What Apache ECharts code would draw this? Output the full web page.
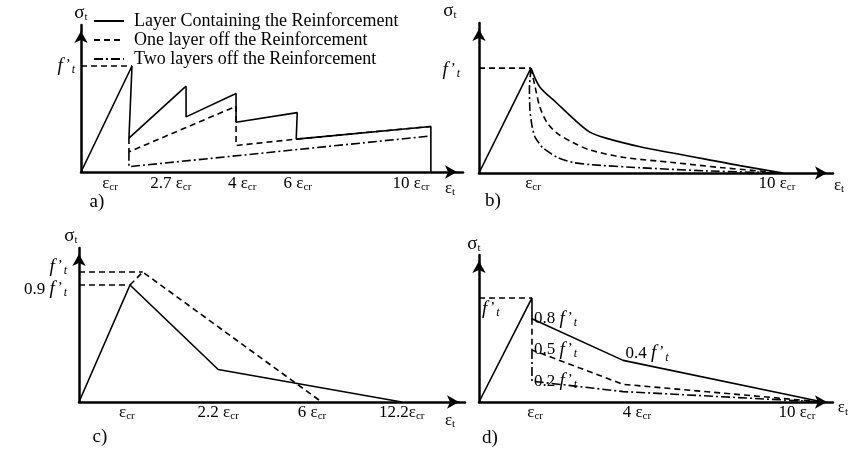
<!DOCTYPE html>
<html>
<head>
<meta charset="utf-8">
<script src="https://cdn.jsdelivr.net/npm/echarts@6/dist/echarts.min.js"></script>
<style>
  html, body { margin: 0; padding: 0; background: #fff; }
  #chart { width: 849px; height: 455px; }
</style>
</head>
<body>
<div id="chart"></div>
<script>
// Tension-softening models for concrete: stress σt (in units of f't) against
// strain εt, drawn on schematic strain axes (1 unit = the cracking strain position).

// ---- a) stepped tension stiffening, by distance from the reinforcement ----
const aSolid   = [[0, 0], [1, 1], [0.94, 0.32], [2.06, 0.81], [2.06, 0.52], [3.04, 0.74], [3.04, 0.47],
                  [4.24, 0.56], [4.22, 0.31], [6.86, 0.43], [6.86, 0]];
const aDashed  = [[0.94, 0.32], [0.94, 0.19], [3.04, 0.62], [3.04, 0.25], [4.22, 0.31], [6.86, 0.43]];
const aDashDot = [[0.94, 0.19], [0.94, 0.05], [6.86, 0.34]];
const aGuide   = [[0, 1], [1, 1]];
const aXTickPos  = [0.57, 1.76, 3.16, 4.25, 6.47];
const aXTickText = ['εcr', '2.7 εcr', '4 εcr', '6 εcr', '10 εcr'];
const aYTickPos  = [1];
const aYTickText = ["f't"];

// ---- b) curved softening branches ----
const bElastic = [[0, 0], [1, 1]];
const bSolid   = [[1, 1], [1.17, 0.82], [1.49, 0.67], [1.81, 0.52], [2.13, 0.39], [2.46, 0.33], [3.1, 0.25],
                  [3.73, 0.19], [4.38, 0.13], [5.02, 0.07], [5.85, 0]];
const bDashed  = [[1, 1], [1.08, 0.82], [1.17, 0.63], [1.31, 0.48], [1.5, 0.38], [1.81, 0.29], [2.13, 0.22],
                  [2.77, 0.15], [3.73, 0.10], [4.69, 0.05], [5.85, 0]];
const bDashDot = [[1, 1], [0.97, 0.8], [0.98, 0.6], [1.02, 0.45], [1.08, 0.34], [1.23, 0.24], [1.5, 0.15],
                  [1.81, 0.1], [2.13, 0.08], [3.1, 0.05], [4.38, 0.02], [5.85, 0]];
const bGuide   = [[0, 1], [1, 1]];
const bXTickPos  = [1.04, 5.73];
const bXTickText = ['εcr', '10 εcr'];
const bYTickPos  = [1];
const bYTickText = ["f't"];

// ---- c) bilinear softening ----
const cSolid   = [[0, 0], [1, 0.9], [2.73, 0.25], [6.33, 0]];
const cDashed  = [[1, 0.9], [1.25, 1], [4.76, 0]];
const cGuideTop = [[0, 1], [1.25, 1]];
const cGuidePeak = [[0, 0.9], [1, 0.9]];
const cXTickPos  = [0.94, 2.73, 4.57, 6.33];
const cXTickText = ['εcr', '2.2 εcr', '6 εcr', '12.2εcr'];
const cYTickPos  = [0.9, 1];
const cYTickText = ["0.9 f't", "f't"];

// ---- d) multilinear softening with residual stress drops ----
const dSolid   = [[0, 0], [1, 1], [1, 0.8], [2.72, 0.4], [6.49, 0]];
const dDashed  = [[1, 0.8], [1, 0.5], [2.72, 0.17], [6.49, 0]];
const dDashDot = [[1, 0.5], [1, 0.2], [2.72, 0.1], [6.49, 0]];
const dGuide   = [[0, 1], [1, 1]];
const dSolidNotes   = [null, null, "0.8 f't", "0.4 f't", null];
const dDashedNotes  = [null, "0.5 f't", null, null];
const dDashDotNotes = [null, "0.2 f't", null, null];
const dXTickPos  = [1.06, 2.98, 6.0];
const dXTickText = ['εcr', '4 εcr', '10 εcr'];
const dYTickPos  = [1];
const dYTickText = ["f't"];

const LAYER_NAMES = ['Layer Containing the Reinforcement', 'One layer off the Reinforcement',
                     'Two layers off the Reinforcement'];

const FONT = '"Liberation Serif", "Times New Roman", serif';
const DASH = [6, 4];
const DASH_DOT = [9, 3, 2, 3];

// Rich-text styles; "tag" variants shift a whole label up (<0) or down (>0) by that many px.
function richSet(shift, tag) {
  const pad = (d, left) => (d >= 0 ? [2 * d, 0, 0, left || 0] : [0, 0, -2 * d, left || 0]);
  const base = { fontFamily: FONT, color: '#000' };
  const s = {};
  s['n' + tag] = Object.assign({}, base, { fontSize: 17, padding: pad(shift) });
  s['e' + tag] = Object.assign({}, base, { fontSize: 17, padding: pad(shift) });
  s['s' + tag] = Object.assign({}, base, { fontSize: 11, padding: pad(shift + 4) });
  s['f' + tag] = Object.assign({}, base, { fontSize: 19, fontStyle: 'italic', padding: pad(shift) });
  s['p' + tag] = Object.assign({}, base, { fontSize: 15, padding: pad(shift - 1, 3) });
  s['t' + tag] = Object.assign({}, base, { fontSize: 12, fontStyle: 'italic', padding: pad(shift + 4, 1) });
  s['g' + tag] = Object.assign({}, base, { fontSize: 19, padding: pad(shift) });
  return s;
}
const RICH = Object.assign({}, richSet(0, ''), richSet(-5, 'U'), richSet(4, 'D'), richSet(11, 'L'), richSet(2, 'B'));

function toRich(str, tag) {
  tag = tag || '';
  return str.split(/(εcr|εt|σt|f't)/).filter(Boolean).map(p => {
    if (p === 'εcr') return '{e' + tag + '|ε}{s' + tag + '|cr}';
    if (p === 'εt') return '{e' + tag + '|ε}{s' + tag + '|t}';
    if (p === 'σt') return '{g' + tag + '|σ}{s' + tag + '|t}';
    if (p === "f't") return '{f' + tag + '|f}{p' + tag + "|\u2019}{t" + tag + '|t}';
    return '{n' + tag + '|' + p + '}';
  }).join('');
}

function lookup(pos, text, v) {
  const i = pos.findIndex(p => Math.abs(p - v) < 1e-6);
  return i < 0 ? '' : text[i];
}

const GRIDS = [
  { left: 81,  top: 25,  width: 382, height: 147 },
  { left: 479, top: 23,  width: 354, height: 150 },
  { left: 79,  top: 248, width: 386, height: 154 },
  { left: 479, top: 255, width: 354, height: 147 }
];
const X_MAX = [7.49, 6.81, 7.57, 6.68];
const Y_MAX = [1.387, 1.43, 1.185, 1.413];

const axisLine = {
  show: true,
  onZero: false,
  symbol: ['none', 'arrow'],
  symbolSize: [10, 12],
  symbolOffset: [0, -6],
  lineStyle: { color: '#000', width: 2.5 }
};

function xAxis(g, pos, text, margin, nameGap, nameStyle) {
  return {
    type: 'value', gridIndex: g, min: 0, max: X_MAX[g],
    axisLine, axisTick: { show: false }, splitLine: { show: false },
    axisLabel: {
      customValues: pos, margin, color: '#000', rich: RICH,
      formatter: v => toRich(lookup(pos, text, v))
    },
    name: toRich('εt'), nameLocation: 'end', nameGap,
    nameTextStyle: Object.assign({ rich: RICH, align: 'center', verticalAlign: 'top' }, nameStyle)
  };
}

function yAxis(g, pos, text, labelOpts, nameGap, nameStyle) {
  return {
    type: 'value', gridIndex: g, min: 0, max: Y_MAX[g],
    axisLine, axisTick: { show: false }, splitLine: { show: false },
    axisLabel: Object.assign({
      customValues: pos, color: '#000', rich: RICH,
      formatter: v => toRich(lookup(pos, text, v), labelOpts.tagFor ? labelOpts.tagFor(v) : '')
    }, labelOpts.extra),
    name: toRich('σt'), nameLocation: 'end', nameGap,
    nameTextStyle: Object.assign({ rich: RICH, align: 'center' }, nameStyle)
  };
}

function line(name, g, data, type, extra) {
  return Object.assign({
    name, type: 'line', xAxisIndex: g, yAxisIndex: g, data,
    symbol: 'none', smooth: false, silent: true,
    color: '#000',
    lineStyle: { color: '#000', width: 1.6, type: type || 'solid' },
    z: 3
  }, extra || {});
}

function annotated(pts, notes, placement) {
  return pts.map((p, i) => notes[i]
    ? { value: p, label: Object.assign({ show: true, formatter: toRich(notes[i]), rich: RICH }, placement(notes[i])) }
    : p);
}
const notePlacement = txt => (txt === "0.4 f't"
  ? { position: 'top', offset: [24, 8] }
  : { position: 'right', distance: 2 });

const pointMarks = { symbol: 'circle', symbolSize: 0.01, showSymbol: true };

const chart = echarts.init(document.getElementById('chart'), null, { renderer: 'canvas' });
chart.setOption({
  animation: false,
  backgroundColor: '#fff',
  textStyle: { fontFamily: FONT, color: '#000' },
  grid: GRIDS,
  legend: {
    data: LAYER_NAMES,
    orient: 'vertical',
    left: 93, top: 12, padding: 0,
    itemWidth: 30, itemHeight: 14, itemGap: 1,
    selectedMode: false,
    // line-only keys: the point marker is hidden
    itemStyle: { opacity: 0, color: 'rgba(0,0,0,0)', borderWidth: 0 },
    textStyle: { fontFamily: FONT, fontSize: 18, color: '#000', padding: [0, 0, 0, 5] }
  },
  xAxis: [
    xAxis(0, aXTickPos, aXTickText, 2, -13, { padding: [7, 0, 0, 0] }),
    xAxis(1, bXTickPos, bXTickText, 1, 6, { padding: [3, 0, 0, 0] }),
    xAxis(2, cXTickPos, cXTickText, 1, -15, { padding: [9, 0, 0, 0] }),
    xAxis(3, dXTickPos, dXTickText, 1, 10, { verticalAlign: 'middle', padding: [12, 0, 0, 0] })
  ],
  yAxis: [
    yAxis(0, aYTickPos, aYTickText, { extra: { margin: 6 } }, 2, {}),
    yAxis(1, bYTickPos, bYTickText, { extra: { margin: 19 }, tagFor: () => 'B' }, 2, { padding: [0, 58, 0, 0] }),
    yAxis(2, cYTickPos, cYTickText, { extra: { margin: 12 }, tagFor: v => (v === 1 ? 'U' : 'D') }, 2, { padding: [0, 16, 0, 0] }),
    yAxis(3, dYTickPos, dYTickText, { extra: { inside: true, margin: 3 }, tagFor: () => 'L' }, 1, { padding: [0, 10, 0, 0] })
  ],
  series: [
    // a)
    line(LAYER_NAMES[0], 0, aSolid, 'solid'),
    line(LAYER_NAMES[1], 0, aDashed, DASH),
    line(LAYER_NAMES[2], 0, aDashDot, DASH_DOT),
    line('a guide', 0, aGuide, DASH),
    // b)
    line('b elastic', 1, bElastic, 'solid'),
    line('b layer 0', 1, bSolid, 'solid', { smooth: 0.3 }),
    line('b layer 1', 1, bDashed, DASH, { smooth: 0.3 }),
    line('b layer 2', 1, bDashDot, DASH_DOT, { smooth: 0.2 }),
    line('b guide', 1, bGuide, DASH),
    // c)
    line('c solid', 2, cSolid, 'solid'),
    line('c dashed', 2, cDashed, DASH),
    line('c guide top', 2, cGuideTop, DASH),
    line('c guide peak', 2, cGuidePeak, DASH),
    // d)
    line('d layer 0', 3, annotated(dSolid, dSolidNotes, notePlacement), 'solid', pointMarks),
    line('d layer 1', 3, annotated(dDashed, dDashedNotes, notePlacement), DASH, pointMarks),
    line('d layer 2', 3, annotated(dDashDot, dDashDotNotes, notePlacement), DASH_DOT, pointMarks),
    line('d guide', 3, dGuide, DASH)
  ],
  graphic: [
    { type: 'text', x: 97,  y: 202, style: { text: 'a)', font: '19px ' + FONT, fill: '#000', align: 'center', verticalAlign: 'middle' } },
    { type: 'text', x: 493, y: 201, style: { text: 'b)', font: '19px ' + FONT, fill: '#000', align: 'center', verticalAlign: 'middle' } },
    { type: 'text', x: 100, y: 437, style: { text: 'c)', font: '19px ' + FONT, fill: '#000', align: 'center', verticalAlign: 'middle' } },
    { type: 'text', x: 490, y: 438, style: { text: 'd)', font: '19px ' + FONT, fill: '#000', align: 'center', verticalAlign: 'middle' } }
  ]
});
</script>
</body>
</html>
